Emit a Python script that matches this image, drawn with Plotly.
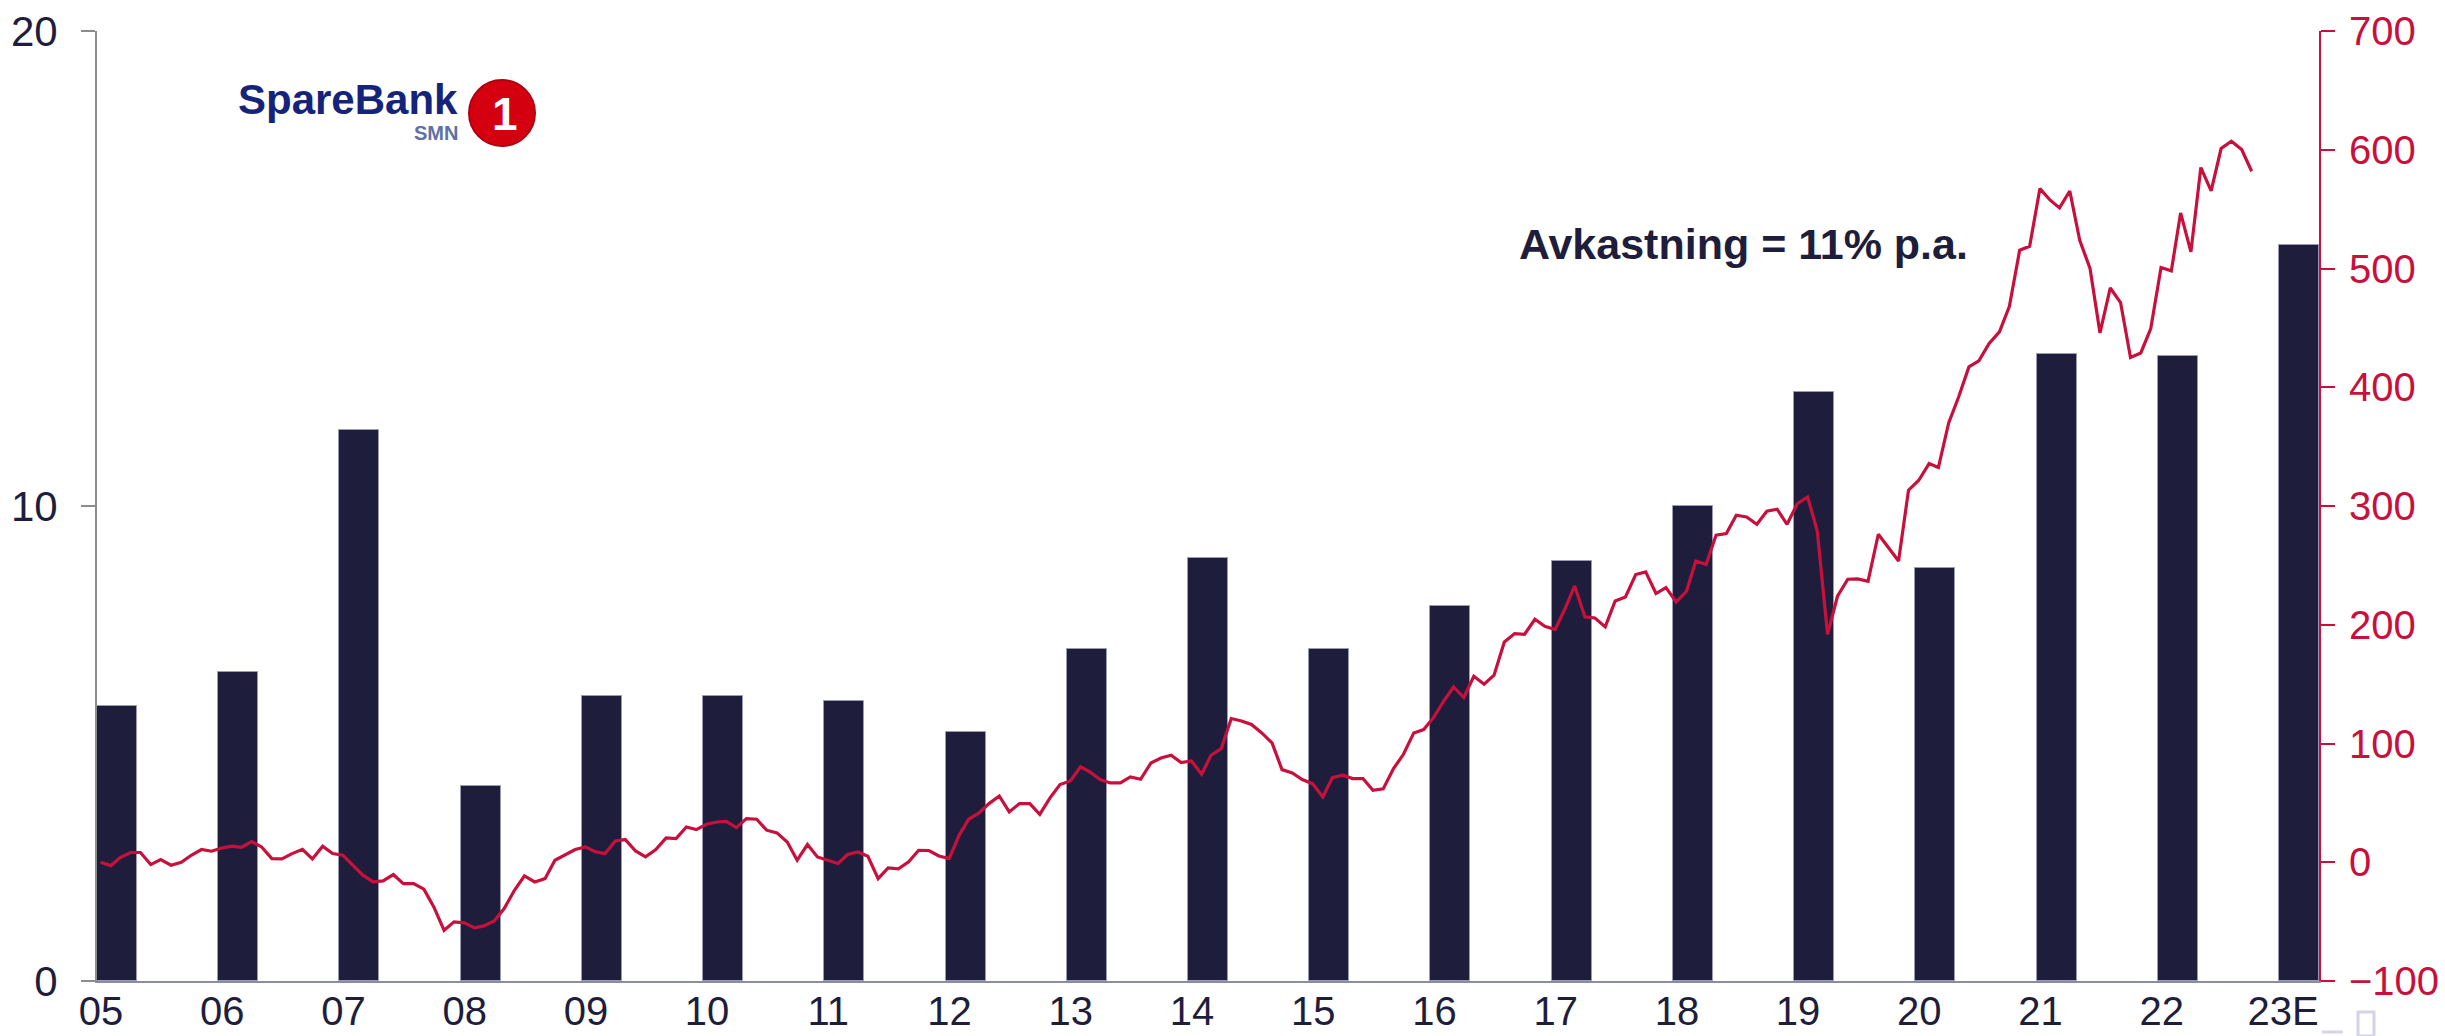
import pandas as pd
import plotly.graph_objects as go

# Annual bars (left axis) and monthly share price line (right axis)
years = ["05", "06", "07", "08", "09", "10", "11", "12", "13", "14",
         "15", "16", "17", "18", "19", "20", "21", "22", "23E"]
bar_values = [5.8, 6.5, 11.6, 4.1, 6.0, 6.0, 5.9, 5.25, 7.0, 8.9,
              7.0, 7.9, 8.85, 10.0, 12.4, 8.7, 13.2, 13.15, 15.5]

price_start = "2005-12-31"
price_values = [
    0, -2.8, 4, 8.2, 8.2, -2, 2.2, -2.5, 0, 5.9, 10.7, 9.3,
    12, 13.5, 12.6, 17.4, 12.9, 3.1, 2.8, 7.3, 10.9, 2.8, 13.5, 7.3,
    5.9, -3.1, -10.9, -16.6, -15.7, -10.4, -18, -18, -22.7, -37.6, -57.3, -50.2,
    -51.1, -55.3, -53.6, -49.4, -39, -23.6, -11.5, -16.6, -13.8, 1.7, 5.9, 10.7,
    12.9, 8.7, 7.3, 18, 19.1, 9.5, 4.5, 10.7, 20.5, 19.9, 29.7, 27.5,
    32, 33.9, 34.5, 29.2, 36.8, 36.2, 27, 24.7, 17.1, 1.7, 14.9, 4.5,
    1.7, -1.1, 6.5, 8.7, 5, -13.8, -4.8, -5.6, 0.3, 10.1, 9.8, 5.3,
    3.1, 23.3, 36.2, 41.5, 49.4, 55.8, 42.4, 49.4, 49.4, 40.4, 54.2, 65.4,
    68.5, 80.3, 76.1, 69.6, 66.8, 66.8, 71.9, 69.9, 83.6, 87.8, 90.1, 83.9,
    85.3, 74.1, 90.1, 95.7, 121, 119, 116, 108.9, 100.5, 78, 75.2, 69.6,
    66.2, 55, 71.3, 73.3, 70.5, 70.5, 60.6, 61.8, 78.9, 90.9, 108.9, 111.7,
    122.4, 136.4, 147.6, 138.7, 156.6, 149.9, 157.5, 185.5, 192.6, 192, 204.6, 198.7,
    196, 214.2, 232.7, 206.6, 205.7, 198.2, 220, 223.4, 242.3, 244.5, 226.3, 231.3,
    219.2, 228.2, 253.7, 250.7, 275.4, 276.8, 292.2, 290.8, 284.6, 295.6, 297.3, 284.6,
    302, 307.6, 279, 192, 224, 238.3, 238.6, 236.6, 276.2, 265, 253.7, 313.3,
    321.7, 335.7, 332.4, 369.9, 391.8, 417.1, 422.2, 436.8, 446.6, 468.2, 515.4, 518.7,
    567.3, 557.5, 551, 565.3, 523.8, 500, 445.7, 483.6, 471.3, 425, 428.9, 449.4,
    500.8, 498, 546.8, 514, 585, 565.3, 601, 607.2, 600.2, 581.9,
]
price_dates = pd.date_range(price_start, periods=len(price_values), freq="ME")

left_ticks = [0, 10, 20]
right_ticks = list(range(-100, 701, 100))

NAVY = "#1e1e3c"
CRIMSON = "#c8103c"
GREY = "#8c8c8c"
FONT = "Liberation Sans, Arial, sans-serif"

bar_pos = list(range(len(years)))
label_pos = [p - 0.132 for p in bar_pos]

fig = go.Figure()
fig.add_trace(go.Bar(
    x=bar_pos, y=bar_values, width=0.33,
    marker=dict(color=NAVY, line=dict(color="#9a9ab4", width=1)),
    xaxis="x", yaxis="y", showlegend=False,
))
fig.add_trace(go.Scatter(
    x=price_dates, y=price_values, mode="lines",
    line=dict(color=CRIMSON, width=3.2),
    xaxis="x2", yaxis="y2", showlegend=False,
))

W, H = 2445, 1036
L, R, T, B = 97, 126, 31, 55
pw, ph = W - L - R, H - T - B


def px(x):
    return (x - L) / pw


def py(y):
    return (H - B - y) / ph


fig.update_layout(
    width=W, height=H,
    margin=dict(l=L, r=R, t=T, b=B, pad=0, autoexpand=False),
    paper_bgcolor="white", plot_bgcolor="white",
    font=dict(family=FONT, color=NAVY),
    bargap=0,
    xaxis=dict(
        range=[-0.165, len(years) - 1 + 0.165],
        tickvals=label_pos, ticktext=years,
        tickfont=dict(size=40, color=NAVY),
        showline=True, linecolor="#8c8ca0", linewidth=1.5,
        showgrid=False, zeroline=False, ticks="",
        ticklabelstandoff=-6, automargin=False,
    ),
    xaxis2=dict(
        type="date", overlaying="x",
        range=["2005-12-20", "2024-04-20"],
        visible=False, showgrid=False, automargin=False,
    ),
    yaxis=dict(
        range=[0, 20], tickvals=left_ticks,
        tickfont=dict(size=42, color=NAVY),
        showline=True, linecolor=GREY, linewidth=2,
        ticks="outside", ticklen=14, tickcolor=GREY, tickwidth=2,
        showgrid=False, zeroline=False,
        ticklabelstandoff=15, automargin=False,
    ),
    yaxis2=dict(
        range=[-100, 700], tickvals=right_ticks,
        overlaying="y", side="right",
        tickfont=dict(size=40, color=CRIMSON),
        showline=True, linecolor=CRIMSON, linewidth=2,
        ticks="outside", ticklen=14, tickcolor=CRIMSON, tickwidth=2,
        showgrid=False, zeroline=False,
        ticklabelstandoff=6, automargin=False,
    ),
)

# Logo: SpareBank 1 SMN
fig.add_shape(type="circle", xref="paper", yref="paper",
              x0=px(469), x1=px(535), y0=py(146), y1=py(80),
              fillcolor="#d40010", line=dict(color="#b00010", width=2))
fig.add_annotation(text="<b>1</b>", xref="paper", yref="paper",
                   x=px(505), y=py(114), showarrow=False,
                   xanchor="center", yanchor="middle",
                   font=dict(size=46, color="white", family=FONT))
fig.add_annotation(text="<b>SpareBank</b>", xref="paper", yref="paper",
                   x=px(348), y=py(99), showarrow=False,
                   xanchor="center", yanchor="middle",
                   font=dict(size=42, color="#15237a", family=FONT))
fig.add_annotation(text="<b>SMN</b>", xref="paper", yref="paper",
                   x=px(436), y=py(133), showarrow=False,
                   xanchor="center", yanchor="middle",
                   font=dict(size=20, color="#6070a8", family=FONT))

fig.add_annotation(text="<b>Avkastning = 11% p.a.</b>", xref="paper", yref="paper",
                   x=px(1743), y=py(244), showarrow=False,
                   xanchor="center", yanchor="middle",
                   font=dict(size=43, color=NAVY, family=FONT))

# small footer marks
fig.add_shape(type="line", xref="paper", yref="paper",
              x0=px(2322), x1=px(2343), y0=py(1032), y1=py(1032),
              line=dict(color="#d4d4e4", width=3))
fig.add_shape(type="rect", xref="paper", yref="paper",
              x0=px(2358), x1=px(2374), y0=py(1036), y1=py(1012),
              line=dict(color="#d4d4e4", width=3))

fig.write_html("out.html")
